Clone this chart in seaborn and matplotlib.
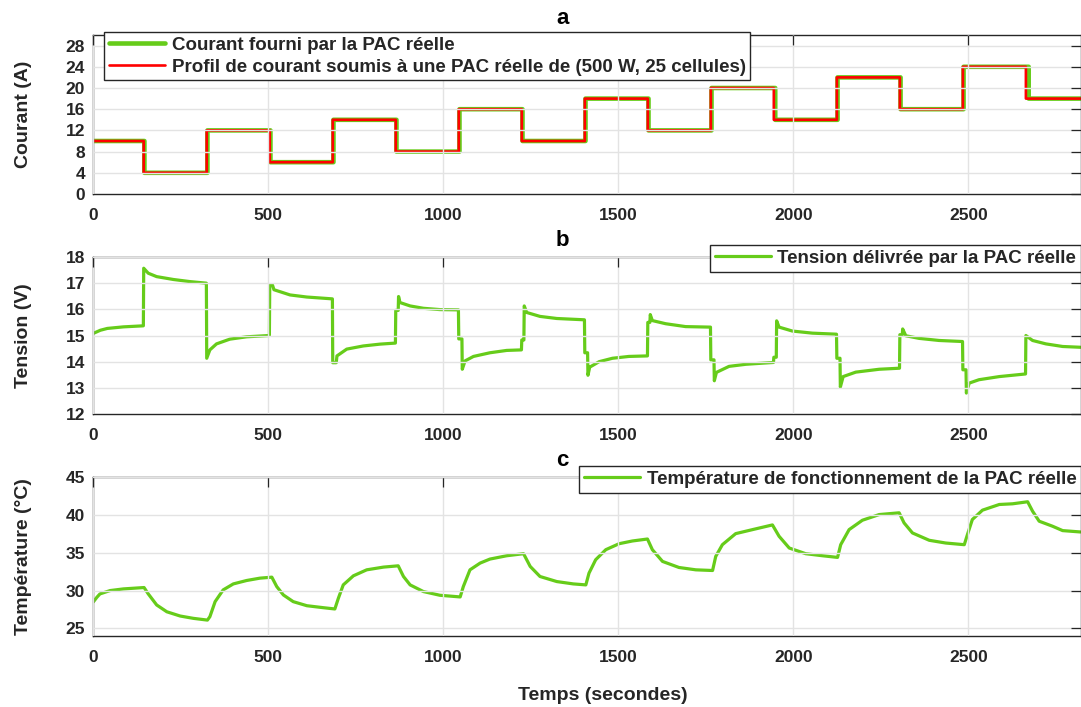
import numpy as np
import pandas as pd
import seaborn as sns
import matplotlib.pyplot as plt

# ---- data ----
# (a) current steps: reference profile and current delivered by the real PAC
step_times = [0, 144, 324, 504, 684, 864, 1044, 1224, 1404, 1584, 1764, 1944, 2124, 2304, 2484, 2664, 2820]
current_ref = [10, 4, 12, 6, 14, 8, 16, 10, 18, 12, 20, 14, 22, 16, 24, 18, 18]
step_times_pac = [0, 146, 326, 506, 686, 866, 1046, 1226, 1406, 1586, 1766, 1948, 2126, 2306, 2486, 2672, 2820]
current_pac = [10, 4, 12, 6, 14, 8, 16, 10, 18, 12, 20, 14, 22, 16, 24, 18, 18]

# (b) stack voltage
t_volt = [0, 20, 40, 86, 143,
          144, 157, 181, 229, 276, 323,
          324, 333, 352, 390, 438, 503,
          504, 512, 516, 562, 610, 683,
          684, 694, 696, 724, 771, 819, 863,
          864, 871, 872, 876, 905, 943, 990, 1043,
          1044, 1053, 1054, 1062, 1086, 1133, 1181, 1223,
          1224, 1230, 1231, 1238, 1276, 1324, 1403,
          1404, 1412, 1413, 1418, 1445, 1483, 1530, 1583,
          1584, 1590, 1591, 1597, 1635, 1692, 1763,
          1764, 1773, 1774, 1780, 1816, 1864, 1943,
          1944, 1951, 1952, 1959, 1997, 2054, 2123,
          2124, 2133, 2134, 2142, 2178, 2245, 2303,
          2304, 2311, 2312, 2321, 2359, 2416, 2483,
          2484, 2493, 2494, 2502, 2530, 2588, 2663,
          2664, 2683, 2721, 2769, 2820]
volt = [15.08, 15.2, 15.27, 15.33, 15.37,
        17.57, 17.38, 17.25, 17.14, 17.06, 17.0,
        14.13, 14.45, 14.68, 14.86, 14.95, 15.0,
        16.94, 16.92, 16.75, 16.55, 16.47, 16.4,
        13.96, 13.96, 14.22, 14.48, 14.6, 14.67, 14.71,
        15.96, 15.96, 16.49, 16.26, 16.13, 16.04, 15.99, 15.98,
        14.87, 14.87, 13.71, 14.03, 14.2, 14.34, 14.43, 14.45,
        14.83, 14.83, 16.13, 15.88, 15.73, 15.65, 15.6,
        14.34, 14.34, 13.48, 13.79, 14.0, 14.13, 14.2, 14.22,
        15.5, 15.5, 15.8, 15.57, 15.45, 15.34, 15.32,
        14.07, 14.07, 13.27, 13.59, 13.82, 13.9, 13.97,
        14.17, 14.17, 15.56, 15.32, 15.17, 15.09, 15.05,
        14.13, 14.13, 13.03, 13.43, 13.6, 13.71, 13.75,
        15.03, 15.03, 15.25, 14.99, 14.89, 14.81, 14.77,
        13.69, 13.69, 12.8, 13.18, 13.31, 13.43, 13.53,
        15.0, 14.81, 14.68, 14.58, 14.55]

# (c) operating temperature
t_temp = [0, 10, 19, 48, 86, 145,
          157, 181, 210, 248, 286, 326,
          333, 348, 371, 400, 438, 476, 510,
          524, 543, 571, 610, 657, 690,
          700, 714, 743, 781, 829, 871,
          886, 905, 943, 990, 1048,
          1057, 1076, 1105, 1133, 1181, 1229,
          1248, 1276, 1324, 1371, 1407,
          1416, 1435, 1464, 1502, 1540, 1583,
          1597, 1626, 1673, 1721, 1769,
          1778, 1797, 1835, 1883, 1940,
          1959, 1988, 2035, 2083, 2126,
          2135, 2159, 2197, 2245, 2302,
          2316, 2340, 2388, 2435, 2488,
          2497, 2511, 2540, 2588, 2626, 2669,
          2683, 2702, 2740, 2769, 2820]
temp = [28.5, 29.1, 29.56, 30.0, 30.22, 30.4,
        29.56, 28.1, 27.2, 26.64, 26.33, 26.1,
        26.55, 28.54, 30.09, 30.88, 31.33, 31.64, 31.77,
        30.53, 29.42, 28.54, 28.0, 27.74, 27.57,
        28.98, 30.75, 31.95, 32.74, 33.1, 33.27,
        31.86, 30.75, 29.87, 29.38, 29.16,
        30.53, 32.74, 33.63, 34.16, 34.6, 34.87,
        33.19, 31.86, 31.19, 30.88, 30.75,
        32.3, 34.07, 35.4, 36.19, 36.55, 36.81,
        35.4, 33.85, 33.05, 32.74, 32.65,
        34.51, 36.06, 37.52, 38.05, 38.67,
        37.17, 35.62, 34.87, 34.6, 34.38,
        36.06, 38.05, 39.29, 40.04, 40.27,
        38.94, 37.61, 36.64, 36.28, 36.06,
        37.39, 39.38, 40.62, 41.37, 41.46, 41.73,
        40.49, 39.16, 38.5, 37.92, 37.74]

green = '#66cc1a'
red = '#ff0000'
dark = '#262626'

sns.set_style("white")
plt.rcParams['font.family'] = ['Liberation Sans', 'DejaVu Sans']
plt.rcParams['font.weight'] = 'bold'
plt.rcParams['axes.labelweight'] = 'bold'
plt.rcParams['axes.titleweight'] = 'bold'

W, H = 1081, 707
fig = plt.figure(figsize=(W / 100, H / 100), dpi=100)

left = 93.3 / W
width = (1080.5 - 93.3) / W
# top/bottom pixel rows of the three panels
rows = [(35, 194), (257, 414), (477, 636)]
axes = [fig.add_axes([left, 1 - b / H, width, (b - t) / H]) for t, b in rows]
ax1, ax2, ax3 = axes

sns.lineplot(x=step_times_pac, y=current_pac, drawstyle='steps-post', estimator=None, sort=False,
             color=green, lw=3.3, snap=False, ax=ax1, label='Courant fourni par la PAC réelle')
sns.lineplot(x=step_times, y=current_ref, drawstyle='steps-post', estimator=None, sort=False,
             color=red, lw=1.9, snap=False, ax=ax1,
             label='Profil de courant soumis à une PAC réelle de (500 W, 25 cellules)')
sns.lineplot(x=t_volt, y=volt, estimator=None, sort=False, color=green, lw=2.3, ax=ax2,
             label='Tension délivrée par la PAC réelle')
sns.lineplot(x=t_temp, y=temp, estimator=None, sort=False, color=green, lw=2.3, ax=ax3,
             label='Température de fonctionnement de la PAC réelle')

ax1.set_ylim(0, 30)
ax1.set_yticks(range(0, 29, 4))
ax2.set_ylim(12, 18)
ax2.set_yticks(range(12, 19))
ax3.set_ylim(24, 45)
ax3.set_yticks(range(25, 46, 5))

for ax, title, ylab in zip(axes, ['a', 'b', 'c'],
                           ['Courant (A)', 'Tension (V)', 'Température (°C)']):
    ax.set_xlim(0, 2820)
    ax.set_xticks(range(0, 2501, 500))
    ax.grid(True, color='#e3e3e3', lw=1)
    ax.set_axisbelow(False)
    for s in ax.spines.values():
        s.set_color(dark)
        s.set_linewidth(1.0)
    ax.tick_params(direction='in', length=7, width=0.9, color=dark, labelcolor=dark,
                   labelsize=12.5, top=True, right=True)
    ax.tick_params(axis='x', pad=10)
    ax.tick_params(axis='y', pad=6)
    ax.set_xlabel('')
    ax.set_ylabel(ylab, fontsize=14, color=dark)
    ax.yaxis.set_label_coords(-0.062, 0.5)
    ax.text(0.475, 1.04, title, transform=ax.transAxes, ha='center', va='bottom',
            fontsize=16, fontweight='bold', color='black')

ax3.set_xlabel('Temps (secondes)', fontsize=14, color=dark)
ax3.xaxis.set_label_coords(0.516, -0.32)

leg_kw = dict(frameon=True, fancybox=False, framealpha=1, edgecolor=dark,
              handlelength=3.0, handletextpad=0.35, labelspacing=0.25, borderpad=0.25,
              borderaxespad=0, prop={'size': 13.5, 'weight': 'bold'},
              bbox_transform=fig.transFigure)
leg = ax1.legend(loc='upper left', bbox_to_anchor=(104 / W, 1 - 32 / H), **leg_kw)
leg.get_frame().set_linewidth(1.0)
leg = ax2.legend(loc='upper right', bbox_to_anchor=(1.0, 1 - 245 / H), **leg_kw)
leg.get_frame().set_linewidth(1.0)
leg = ax3.legend(loc='upper right', bbox_to_anchor=(1.0, 1 - 466 / H), **leg_kw)
leg.get_frame().set_linewidth(1.0)

fig.savefig('out.png', dpi=100)
